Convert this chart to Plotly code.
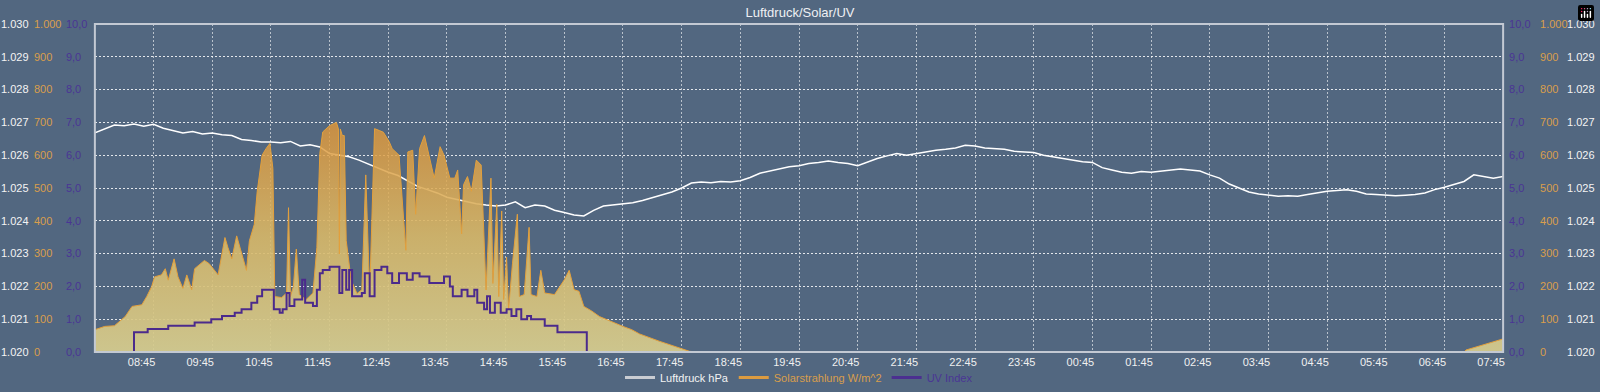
import pandas as pd
import plotly.graph_objects as go

# ---------------- data ----------------
START = "2024-06-01 07:45"
END = "2024-06-02 07:45"

# Luftdruck (hPa), 10-minute samples starting 07:45
pressure_hpa = [
    1026.68, 1026.80,
    1026.92, 1026.90, 1026.95, 1026.88, 1026.94, 1026.82,
    1026.75, 1026.68, 1026.72, 1026.65, 1026.68, 1026.62,
    1026.60, 1026.48, 1026.45, 1026.40, 1026.40, 1026.38,
    1026.42, 1026.28, 1026.32, 1026.25, 1026.05, 1026.00,
    1025.95, 1025.85, 1025.72, 1025.60, 1025.48, 1025.38,
    1025.22, 1025.05, 1024.95, 1024.85, 1024.72, 1024.65,
    1024.60, 1024.52, 1024.48, 1024.45, 1024.48, 1024.58,
    1024.40, 1024.48, 1024.45, 1024.32, 1024.25, 1024.18,
    1024.15, 1024.32, 1024.45, 1024.48, 1024.52, 1024.55,
    1024.62, 1024.70, 1024.78, 1024.88, 1025.00, 1025.15,
    1025.18, 1025.16, 1025.20, 1025.18, 1025.22, 1025.32,
    1025.45, 1025.52, 1025.60, 1025.65, 1025.68, 1025.75,
    1025.78, 1025.82, 1025.78, 1025.75, 1025.68, 1025.80,
    1025.90, 1025.98, 1026.05, 1026.00, 1026.05, 1026.12,
    1026.15, 1026.18, 1026.22, 1026.30, 1026.28, 1026.22,
    1026.20, 1026.18, 1026.12, 1026.10, 1026.08, 1026.00,
    1025.95, 1025.88, 1025.85, 1025.80, 1025.78, 1025.62,
    1025.55, 1025.48, 1025.45, 1025.50, 1025.48, 1025.52,
    1025.55, 1025.58, 1025.55, 1025.52, 1025.40, 1025.30,
    1025.12, 1025.00, 1024.88, 1024.82, 1024.78, 1024.75,
    1024.76, 1024.75, 1024.80, 1024.85, 1024.90, 1024.92,
    1024.95, 1024.90, 1024.82, 1024.80, 1024.78, 1024.76,
    1024.78, 1024.80, 1024.85, 1024.95, 1025.02, 1025.12,
    1025.20, 1025.40, 1025.35, 1025.30, 1025.35,
]

# Solarstrahlung W/m^2
solar_time = [
    "07:45", "07:55", "08:05", "08:16", "08:23", "08:33", "08:38", "08:43", "08:46", "08:53",
    "08:57", "09:00", "09:06", "09:10", "09:15", "09:19", "09:24", "09:27", "09:37", "09:42",
    "09:51", "09:58", "10:01", "10:05", "10:10", "10:15", "10:20", "10:23", "10:28", "10:31",
    "10:36", "10:40", "10:44", "10:47", "10:49", "10:56", "11:01", "11:03", "11:05", "11:08",
    "11:11", "11:14", "11:21", "11:28", "11:32", "11:35", "11:38", "11:45", "11:52", "11:54",
    "11:55", "11:56", "11:58", "12:00", "12:02", "12:07", "12:13", "12:18", "12:22", "12:26",
    "12:31", "12:36", "12:40", "12:46", "12:49", "12:56", "13:03", "13:05", "13:10", "13:13",
    "13:17", "13:22", "13:25", "13:32", "13:38", "13:42", "13:48", "13:53", "13:56", "14:00",
    "14:02", "14:06", "14:10", "14:15", "14:20", "14:23", "14:25", "14:30", "14:32", "14:36",
    "14:38", "14:41", "14:43", "14:46", "14:48", "14:52", "14:57", "14:59", "15:04", "15:09",
    "15:11", "15:17", "15:21", "15:25", "15:35", "15:45", "15:50", "15:55", "16:00", "16:05",
    "16:13", "16:21", "16:31", "16:45", "16:54", "17:02", "17:22", "17:42", "17:53", "18:03",
    "07:05", "07:07", "07:20", "07:35", "07:45",
]
solar_vals = [
    68, 78, 80, 108, 139, 144, 169, 199, 229, 235,
    254, 219, 284, 229, 194, 235, 190, 254, 279, 269,
    235, 349, 319, 284, 354, 299, 249, 339, 389, 490,
    600, 620, 636, 560, 169, 166, 180, 440, 169, 200,
    314, 175, 160, 180, 319, 605, 671, 690, 700, 680,
    299, 680, 660, 660, 340, 220, 178, 190, 540, 180,
    681, 675, 670, 641, 620, 600, 310, 610, 615, 420,
    620, 660, 620, 530, 626, 600, 530, 530, 555, 360,
    510, 535, 490, 585, 570, 370, 189, 530, 209, 450,
    169, 430, 160, 289, 129, 269, 420, 169, 175, 380,
    175, 169, 249, 180, 175, 220, 249, 190, 185, 139,
    125, 108, 95, 78, 68, 55, 33, 12, 2, 0,
    0, 6, 17, 30, 40,
]

# UV Index (step changes)
uv_time = [
    "07:45", "08:25", "08:39", "09:00", "09:27", "09:44", "09:55", "10:08", "10:15", "10:25",
    "10:31", "10:36", "10:48", "10:54", "10:57", "11:01", "11:04", "11:09", "11:17", "11:20",
    "11:28", "11:32", "11:35", "11:38", "11:45", "11:55", "11:58", "12:02", "12:05", "12:08",
    "12:18", "12:21", "12:26", "12:31", "12:38", "12:44", "12:49", "12:56", "13:04", "13:10",
    "13:17", "13:27", "13:42", "13:48", "13:51", "14:00", "14:06", "14:13", "14:16", "14:23",
    "14:26", "14:29", "14:34", "14:40", "14:46", "14:51", "14:56", "15:01", "15:07", "15:11",
    "15:25", "15:38", "16:08", "07:45",
]
uv_vals = [
    0.0, 0.6, 0.7, 0.8, 0.9, 1.0, 1.1, 1.2, 1.3, 1.5,
    1.7, 1.9, 1.3, 1.2, 1.3, 1.8, 1.4, 1.6, 2.2, 1.5,
    1.4, 1.9, 2.4, 2.5, 2.6, 1.8, 2.5, 1.9, 2.5, 1.7,
    1.8, 2.4, 1.7, 2.5, 2.6, 2.4, 2.1, 2.4, 2.2, 2.4,
    2.3, 2.1, 2.3, 2.0, 1.7, 1.9, 1.7, 1.9, 1.5, 1.3,
    1.7, 1.2, 1.5, 1.2, 1.3, 1.1, 1.3, 1.0, 1.1, 1.0,
    0.8, 0.6, 0.0, 0.0,
]

# ---------------- helpers ----------------
t0 = pd.Timestamp(START)


def to_dt(clocks):
    out = []
    prev = None
    day = t0.normalize()
    for c in clocks:
        ts = pd.Timestamp(f"{day.date()} {c}")
        if prev is not None and ts < prev:
            day = day + pd.Timedelta(days=1)
            ts = pd.Timestamp(f"{day.date()} {c}")
        out.append(ts)
        prev = ts
    return out


p_times = pd.date_range(START, periods=len(pressure_hpa), freq="10min")
s_times = to_dt(solar_time)
u_times = to_dt(uv_time)
tick_vals = pd.date_range("2024-06-01 08:45", END, freq="1h")

BG = "#526780"
C_P = "#f4f4f4"
C_S = "#d99e4c"
C_U = "#4a3595"
FONT = "Liberation Sans, Arial, sans-serif"

fig = go.Figure()

fig.add_trace(go.Scatter(
    x=p_times, y=pressure_hpa, mode="lines", yaxis="y",
    line=dict(color="#ffffff", width=1.5), showlegend=False, hoverinfo="skip"))

fig.add_trace(go.Scatter(
    x=s_times, y=solar_vals, mode="lines", yaxis="y2", fill="tozeroy",
    line=dict(color="#e3a03c", width=1),
    fillgradient=dict(type="vertical", start=0, stop=700,
                      colorscale=[[0, "rgba(214,204,142,0.93)"],
                                  [0.5, "rgba(216,184,104,0.9)"],
                                  [1, "rgba(224,150,56,0.82)"]]),
    showlegend=False, hoverinfo="skip"))

fig.add_trace(go.Scatter(
    x=u_times, y=uv_vals, mode="lines", yaxis="y3", line_shape="hv",
    line=dict(color="#4b2a8c", width=2), showlegend=False, hoverinfo="skip"))

# mirrored right-hand axes carry empty placeholder traces
for ax in ("y4", "y5", "y6"):
    fig.add_trace(go.Scatter(x=[None], y=[None], mode="lines", yaxis=ax,
                             showlegend=False, hoverinfo="skip"))

# legend entries
for name, col, tcol in [("Luftdruck hPa", "#c9ccd2", C_P),
                        ("Solarstrahlung W/m^2", "#dc9b40", C_S),
                        ("UV Index", "#4b2f90", C_U)]:
    fig.add_trace(go.Scatter(
        x=[None], y=[None], mode="lines", yaxis="y",
        line=dict(color=col, width=3),
        name=f"<span style='color:{tcol}'>{name}</span>"))

W = 1600.0
grid_y = dict(showgrid=True, gridcolor="rgba(255,255,255,0.85)", gridwidth=1,
              griddash="2px,2px")


def yax(rng, dtick, fmt, pos, color, **kw):
    d = dict(range=rng, dtick=dtick, tick0=rng[0], tickformat=fmt, anchor="free",
             position=pos, side="right", ticks="", showline=False, zeroline=False,
             tickfont=dict(color=color, size=11, family=FONT), fixedrange=True)
    d.update(kw)
    return d


fig.update_layout(
    width=1600, height=392,
    margin=dict(l=0, r=0, t=24, b=36),
    paper_bgcolor=BG, plot_bgcolor=BG,
    separators=",.",
    font=dict(family=FONT, size=11, color=C_P),
    title=dict(text="Luftdruck/Solar/UV", x=0.5, xanchor="center",
               y=1 - 12 / 392, yanchor="middle", yref="container",
               font=dict(size=13, color="#eef0f4", family=FONT)),
    xaxis=dict(type="date", range=[START, END], domain=[95 / W, 1505 / W],
               tickmode="array", tickvals=list(tick_vals), tickformat="%H:%M",
               ticks="", showline=False, zeroline=False,
               showgrid=True, gridcolor="rgba(255,255,255,0.6)", gridwidth=1,
               griddash="2px,2px", ticklabelshift=-12, ticklabelstandoff=2,
               tickfont=dict(color="#f0f0f0", size=11, family=FONT)),
    yaxis=yax([1020, 1030], 1, ",d", 0.0, C_P, **grid_y),
    yaxis2=yax([0, 1000], 100, ",d", 33 / W, C_S, overlaying="y", showgrid=False),
    yaxis3=yax([0, 10], 1, ".1f", 65 / W, C_U, overlaying="y", showgrid=False),
    yaxis4=yax([0, 10], 1, ".1f", 1510 / W, C_U, overlaying="y", showgrid=False),
    yaxis5=yax([0, 1000], 100, ",d", 1541 / W, C_S, overlaying="y", showgrid=False),
    yaxis6=yax([1020, 1030], 1, ",d", 1568 / W, C_P, overlaying="y", showgrid=False),
    legend=dict(orientation="h", x=0.5, xanchor="center", y=-(382 - 356) / 332,
                yanchor="middle", bgcolor="rgba(0,0,0,0)",
                font=dict(size=11, family=FONT, color=C_P)),
    modebar=dict(bgcolor="rgba(0,0,0,0)", color="rgba(0,0,0,0)",
                 activecolor="rgba(0,0,0,0)"),
    shapes=[dict(type="rect", xref="x domain", yref="y domain", x0=0, x1=1, y0=0, y1=1,
                 line=dict(color="#c3c9d3", width=2), layer="above")],
)

fig.write_html("out.html", post_script="document.body.style.margin='0';")
